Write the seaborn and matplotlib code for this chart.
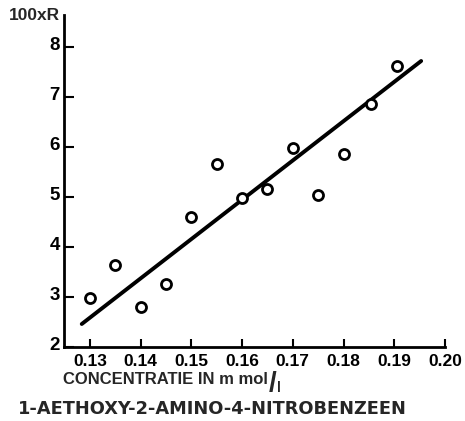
import matplotlib
matplotlib.use("Agg")
import matplotlib.pyplot as plt
import matplotlib.transforms as mtransforms
import seaborn as sns
import pandas as pd

# values
conc = [0.130, 0.135, 0.140, 0.145, 0.150, 0.155, 0.160, 0.165, 0.170, 0.175, 0.180, 0.1855, 0.1905]
r100 = [2.98, 3.64, 2.80, 3.26, 4.60, 5.66, 4.98, 5.16, 5.98, 5.04, 5.86, 6.86, 7.62]

# the drawn straight line (two ends)
fit_x = [0.1284, 0.1953]
fit_y = [2.46, 7.72]

xticks = [0.13, 0.14, 0.15, 0.16, 0.17, 0.18, 0.19, 0.20]
xtick_labels = ["0.13", "0.14", "0.15", "0.16", "0.17", "0.18", "0.19", "0.20"]
yticks = [2, 3, 4, 5, 6, 7, 8]

df = pd.DataFrame({"conc": conc, "r": r100})
fit = pd.DataFrame({"conc": fit_x, "r": fit_y})

sns.set_theme(style="ticks")
plt.rcParams["font.family"] = ["Liberation Sans", "DejaVu Sans"]
plt.rcParams["font.weight"] = "bold"

fig = plt.figure(figsize=(4.65, 4.21), dpi=100)
ax = fig.add_axes([64 / 465, 1 - 347 / 421, (445 - 64) / 465, (347 - 15) / 421])

sns.lineplot(data=fit, x="conc", y="r", color="black", linewidth=2.8, ax=ax)
sns.scatterplot(data=df, x="conc", y="r", marker="o", s=52, facecolor="white",
                edgecolor="black", linewidth=2.0, zorder=3, ax=ax)

ax.set_xlim(0.1249, 0.2)
ax.set_ylim(2, 8.64)
ax.set_xticks(xticks)
ax.set_xticklabels(xtick_labels)
ax.set_yticks(yticks)
ax.set_xlabel("")
ax.set_ylabel("")

for side in ["top", "right"]:
    ax.spines[side].set_visible(False)
for side in ["left", "bottom"]:
    ax.spines[side].set_linewidth(2.0)
    ax.spines[side].set_color("black")

ax.tick_params(axis="x", direction="in", length=6, width=1.5, pad=5,
               labelsize=12.5, colors="black")
ax.tick_params(axis="y", direction="in", length=7, width=1.5, pad=3,
               labelsize=13.5, colors="black")
for lab in ax.get_xticklabels() + ax.get_yticklabels():
    lab.set_fontweight("bold")

# y labels sit a little above their ticks
up = mtransforms.ScaledTranslation(0, 3 / 100, fig.dpi_scale_trans)
for lab in ax.get_yticklabels():
    lab.set_transform(lab.get_transform() + up)

fig.text(60 / 465, 1 - 16 / 421, "100xR", ha="right", va="center",
         fontsize=12.5, fontweight="bold")

xl = fig.text(63 / 465, 1 - 380 / 421, "CONCENTRATIE IN m mol", ha="left",
              va="center", fontsize=12, fontweight="bold")
sl = ax.annotate("/", xy=(1, 0.5), xycoords=xl, xytext=(0.5, -3),
                 textcoords="offset points", ha="left", va="center",
                 fontsize=20, fontweight="bold")
ax.annotate("l", xy=(1, 0.35), xycoords=sl, xytext=(0.5, 0),
            textcoords="offset points", ha="left", va="center",
            fontsize=10, fontweight="bold")

fig.text(212 / 465, 1 - 409 / 421, "1-AETHOXY-2-AMINO-4-NITROBENZEEN",
         ha="center", va="center", fontsize=12.8, fontweight="bold",
         family="DejaVu Sans")

fig.savefig("out.png", dpi=100)
